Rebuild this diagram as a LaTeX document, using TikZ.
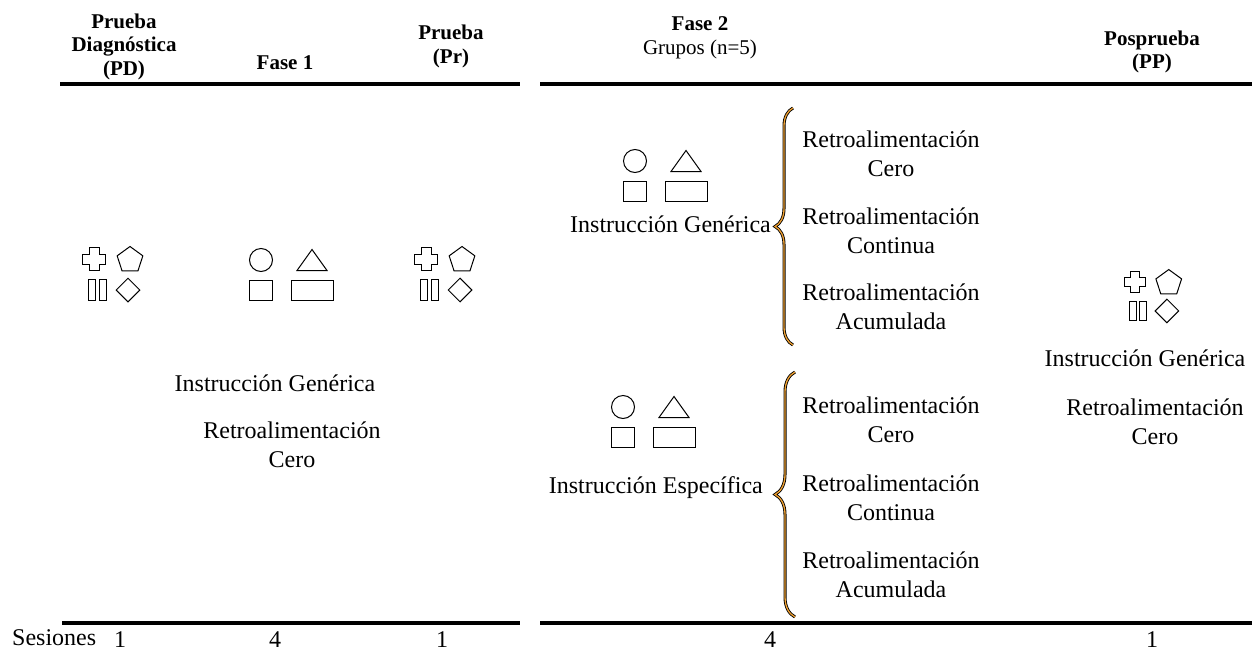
\documentclass[tikz,border=0pt]{standalone}
\usepackage{fontspec}
\setmainfont{Liberation Serif}
\usepackage{xcolor}
\usetikzlibrary{positioning,shapes.geometric,decorations.pathreplacing}
\definecolor{braceorange}{HTML}{F0A030}

\tikzset{
  % four test shapes: cross, pentagon, bars, diamond
  testset/.pic={
    \draw[shp] (-23,-27.5) -- ++(10,0) -- ++(0,6.5) -- ++(6.5,0) -- ++(0,10) -- ++(-6.5,0) -- ++(0,6.5)
      -- ++(-10,0) -- ++(0,-6.5) -- ++(-6.5,0) -- ++(0,-10) -- ++(6.5,0) -- cycle;
    \node[shp,regular polygon,regular polygon sides=5,minimum size=27pt] (-pent) at (18,-15) {};
    \draw[shp] (-24,4.5) rectangle (-17,25.5) (-13,4.5) rectangle (-6,25.5);
    \node[shp,diamond,minimum size=24pt] (-dia) at (16,15) {};
  },
  % four instruction shapes: circle, triangle, square, rectangle
  teachset/.pic={
    \draw[shp] (-25,-15) circle[radius=11.5];
    \draw[shp] (11,-4.5) -- (41,-4.5) -- (26,-25.5) -- cycle;
    \draw[shp] (-36.5,5) rectangle (-13.5,25);
    \draw[shp] (5,5) rectangle (47,25);
  }
}

\begin{document}
\begin{tikzpicture}[
    x=1pt, y=-1pt,
    shp/.style={draw,line width=1pt,inner sep=0pt},
    head/.style={font=\fontsize{21}{23.5}\selectfont\bfseries,align=center,inner sep=0pt},
    txt/.style={font=\fontsize{24}{29}\selectfont,align=center,inner sep=0pt},
    rule/.style={line width=4pt},
    curlyout/.style={decorate,decoration={brace,amplitude=#1},line width=3pt},
    curlyin/.style={decorate,decoration={brace,amplitude=#1},line width=1.3pt,braceorange}
]
\useasboundingbox (0,0) rectangle (1252,656);

% headers
\node[head] (pdhead) at (124,46.5) {Prueba\\Diagnóstica\\(PD)};
\node[head] (f1head) at (285,63) {Fase 1};
\node[head] (prhead) at (451,46.5) {Prueba\\(Pr)};
\node[head] (f2head) at (700,38) {Fase 2\\\mdseries Grupos (n=5)};
\node[head] (pphead) at (1152,52) {Posprueba\\(PP)};

\draw[rule] (60,84) -- (520,84);
\draw[rule] (540,84) -- (1252,84);
\draw[rule] (62,623) -- (520,623);
\draw[rule] (540,623) -- (1252,623);

% shape groups
\pic (pdset) at (112,275) {testset};
\pic (f1set) at (286,275) {teachset};
\pic (prset) at (444,275) {testset};
\pic (gset) at (660,176) {teachset};
\pic (eset) at (648,422) {teachset};
\pic[scale=0.93] (ppset) at (1152,297) {testset};

% fase 1
\node[txt] (f1ig) at (275,383) {Instrucción Genérica};
\node[txt,below=30pt of f1ig,xshift=17pt] (f1rc) {Retroalimentación\\Cero};

% fase 2, generic group
\node[txt,anchor=east] (gig) at (771,224) {Instrucción Genérica};
\node[txt] (grc1) at (891,154) {Retroalimentación\\Cero};
\node[txt,below=30pt of grc1] (grc2) {Retroalimentación\\Continua};
\node[txt,below=30pt of grc2] (grc3) {Retroalimentación\\Acumulada};
\coordinate (gb1) at (793,345);
\coordinate (gb2) at (793,108);
\draw[curlyout=18pt] (gb1) -- (gb2);
\draw[curlyin=18pt] (gb1) -- (gb2);

% fase 2, specific group
\node[txt,anchor=east] (eie) at (763,488) {Instrucción Específica};
\node[txt] (erc1) at (891,420) {Retroalimentación\\Cero};
\node[txt,below=31pt of erc1] (erc2) {Retroalimentación\\Continua};
\node[txt,below=31pt of erc2] (erc3) {Retroalimentación\\Acumulada};
\coordinate (eb1) at (795,617);
\coordinate (eb2) at (795,372);
\draw[curlyout=20pt] (eb1) -- (eb2);
\draw[curlyin=20pt] (eb1) -- (eb2);

% posprueba
\node[txt] (ppig) at (1145,358) {Instrucción Genérica};
\node[txt,below=32pt of ppig,xshift=10pt] (pprc) {Retroalimentación\\Cero};

% sessions
\node[txt,anchor=base west] (ses) at (12,645) {Sesiones};
\node[txt,anchor=base] (spd) at (120,647) {1};
\node[txt,anchor=base] (sf1) at (275,647) {4};
\node[txt,anchor=base] (spr) at (442,647) {1};
\node[txt,anchor=base] (sf2) at (770,647) {4};
\node[txt,anchor=base] (spp) at (1152,647) {1};
\end{tikzpicture}
\end{document}
